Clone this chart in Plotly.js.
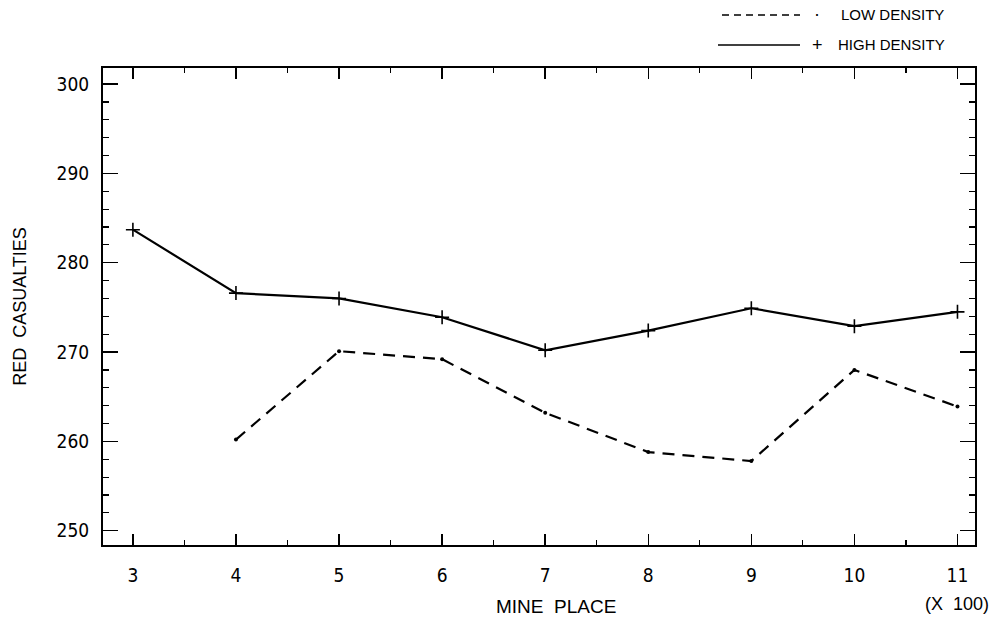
<!DOCTYPE html>
<html>
<head>
<meta charset="utf-8">
<script src="https://cdn.plot.ly/plotly-3.0.1.min.js"></script>
<style>html,body{margin:0;padding:0;background:#fff;}#chart{width:997px;height:619px;}</style>
</head>
<body>
<div id="chart"></div>
<script>
// Data
const minePlace = [3, 4, 5, 6, 7, 8, 9, 10, 11];           // (x 100)
const lowDensityX = [4, 5, 6, 7, 8, 9, 10, 11];
const lowDensity = [260.2, 270.1, 269.2, 263.2, 258.8, 257.8, 268.0, 263.9];
const highDensity = [283.7, 276.6, 276.0, 273.9, 270.2, 272.4, 274.9, 272.9, 274.5];
const yTicks = [250, 260, 270, 280, 290, 300];
const seriesNames = ["LOW DENSITY", "HIGH DENSITY"];

const FONT = "'DejaVu Sans Condensed', 'Liberation Sans Narrow', 'Arial Narrow', 'Liberation Sans', Arial, sans-serif";
const LEG = "'Liberation Sans', Arial, sans-serif";

const traces = [
  {
    x: lowDensityX, y: lowDensity, type: 'scatter', mode: 'lines+markers',
    name: seriesNames[0], showlegend: false,
    line: {color: '#000', width: 2.2, dash: '12px,8px'},
    marker: {symbol: 'circle', size: 4, color: '#000'}
  },
  {
    x: minePlace, y: highDensity, type: 'scatter', mode: 'lines+markers',
    name: seriesNames[1], showlegend: false,
    line: {color: '#000', width: 2.2},
    marker: {symbol: 'cross-thin', size: 10, color: '#000', line: {color: '#000', width: 1.6}}
  }
];

// legend drawn in paper coordinates (plot area: x 103..975, y 68..545)
const px = v => (v - 103) / 872;
const py = v => (545 - v) / 477;

const layout = {
  width: 997, height: 619,
  margin: {l: 103, r: 22, t: 68, b: 74},
  paper_bgcolor: '#fff', plot_bgcolor: '#fff',
  font: {family: FONT, color: '#000', size: 17},
  showlegend: false,
  xaxis: {
    range: [2.71, 11.17], tickvals: minePlace, ticktext: minePlace.map(String),
    ticks: 'inside', ticklen: 11, tickwidth: 1.5, tickcolor: '#000',
    showline: true, linecolor: '#000', linewidth: 2, mirror: 'ticks',
    showgrid: false, zeroline: false, ticklabelstandoff: 12,
    tickfont: {family: FONT, size: 19},
    minor: {dtick: 0.5, tick0: 3, ticks: 'inside', ticklen: 5, tickwidth: 1.2, tickcolor: '#000', showgrid: false}
  },
  yaxis: {
    range: [248.4, 301.8], tickvals: yTicks, ticktext: yTicks.map(String),
    ticks: 'inside', ticklen: 15, tickwidth: 1.5, tickcolor: '#000',
    showline: true, linecolor: '#000', linewidth: 2, mirror: 'ticks',
    showgrid: false, zeroline: false, ticklabelstandoff: 8,
    tickfont: {family: FONT, size: 19},
    minor: {dtick: 2, tick0: 250, ticks: 'inside', ticklen: 6, tickwidth: 1.2, tickcolor: '#000', showgrid: false},
    title: {text: 'RED  CASUALTIES', font: {family: LEG, size: 18}, standoff: 25}
  },
  shapes: [
    {type: 'line', xref: 'paper', yref: 'paper', x0: px(722), x1: px(800), y0: py(15), y1: py(15),
     line: {color: '#000', width: 1.5, dash: '7px,5px'}},
    {type: 'line', xref: 'paper', yref: 'paper', x0: px(718), x1: px(800), y0: py(45), y1: py(45),
     line: {color: '#000', width: 1.5}}
  ],
  annotations: [
    {xref: 'paper', yref: 'paper', x: px(817), y: py(14), text: '·', showarrow: false,
     font: {family: LEG, size: 18}, xanchor: 'center', yanchor: 'middle'},
    {xref: 'paper', yref: 'paper', x: px(817), y: py(45), text: '+', showarrow: false,
     font: {family: LEG, size: 18}, xanchor: 'center', yanchor: 'middle'},
    {xref: 'paper', yref: 'paper', x: px(839), y: py(15), text: seriesNames[0], showarrow: false,
     font: {family: LEG, size: 15}, xanchor: 'left', yanchor: 'middle'},
    {xref: 'paper', yref: 'paper', x: px(836), y: py(45), text: seriesNames[1], showarrow: false,
     font: {family: LEG, size: 15}, xanchor: 'left', yanchor: 'middle'},
    {xref: 'paper', yref: 'paper', x: px(556), y: py(606), text: 'MINE  PLACE', showarrow: false,
     font: {family: LEG, size: 19}, xanchor: 'center', yanchor: 'middle'},
    {xref: 'paper', yref: 'paper', x: px(957), y: py(604), text: '(X  100)', showarrow: false,
     font: {family: LEG, size: 18}, xanchor: 'center', yanchor: 'middle'}
  ]
};

Plotly.newPlot('chart', traces, layout, {displayModeBar: false, staticPlot: true});
</script>
</body>
</html>
